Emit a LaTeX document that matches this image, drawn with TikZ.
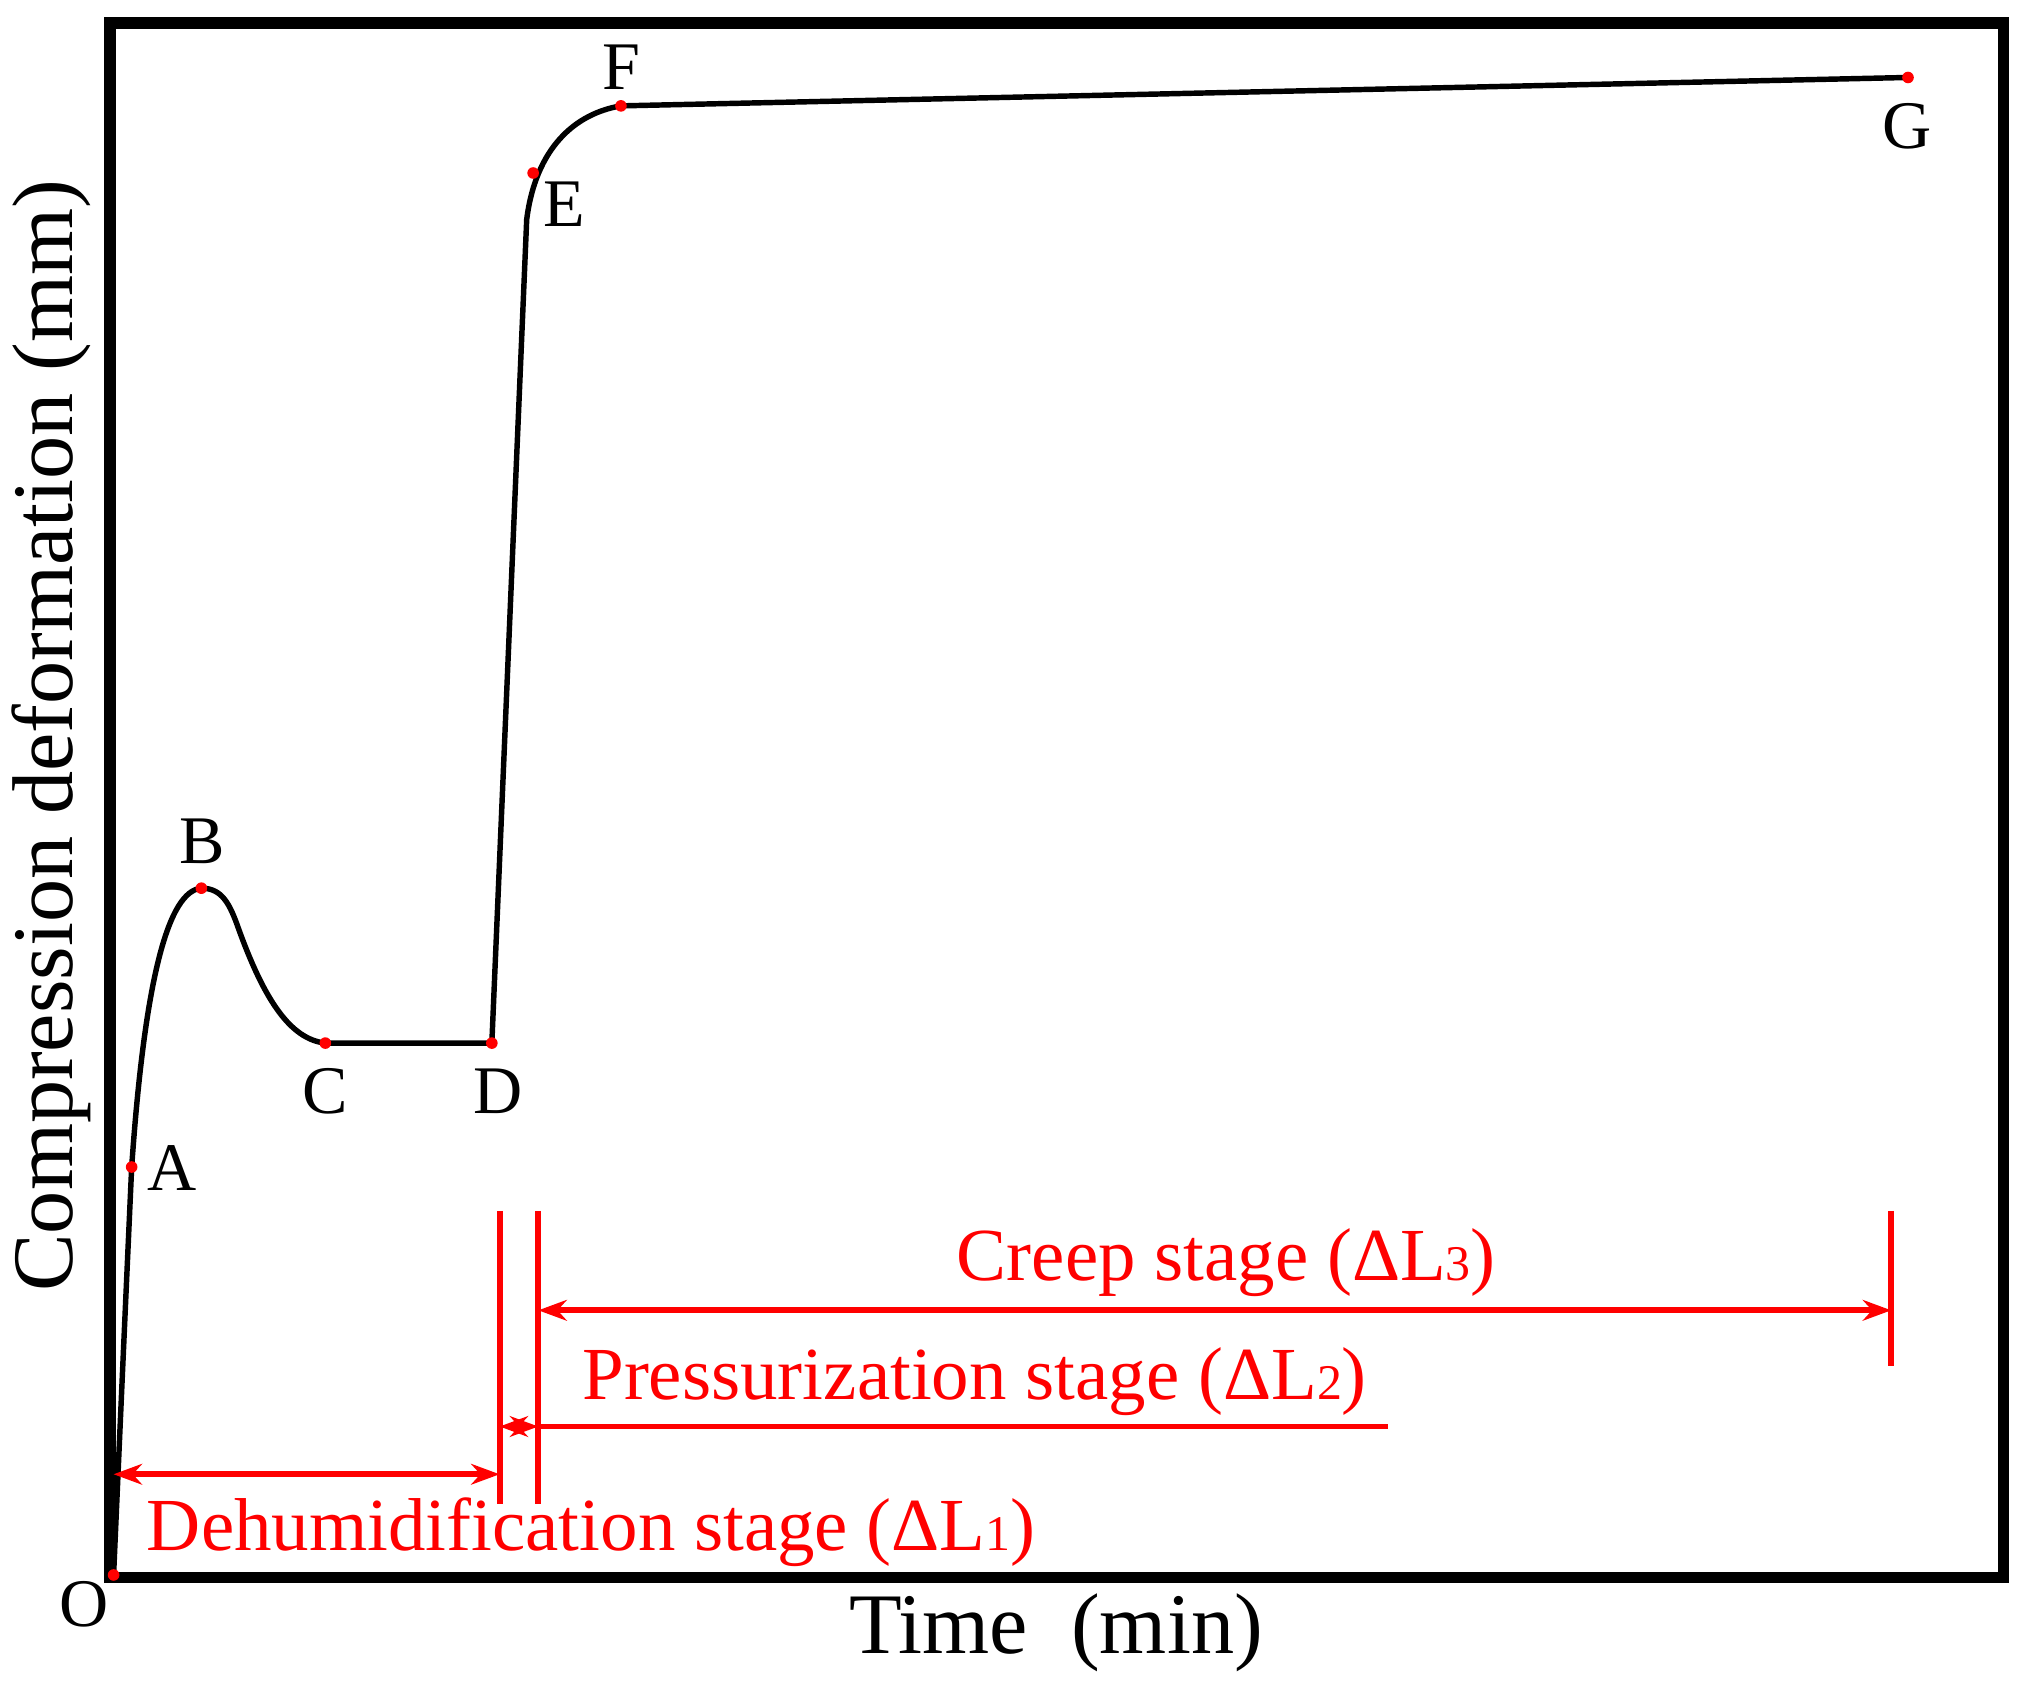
\documentclass[tikz,border=0pt]{standalone}
\usepackage{fontspec}
\setmainfont{Liberation Serif}
\usetikzlibrary{arrows.meta}
\newcommand{\sm}[1]{{\fontsize{11}{11}\selectfont #1}}
\begin{document}
\begin{tikzpicture}[x=0.01cm,y=-0.01cm,
 pt/.style={circle,fill=red,inner sep=0pt,minimum size=0.09cm},
 lab/.style={font=\fontsize{15}{15}\selectfont},
 rl/.style={red,line width=1.3pt},
 ra/.style={red,line width=1.3pt,{Stealth[length=0.22cm,width=0.16cm]}-{Stealth[length=0.22cm,width=0.16cm]}},
 rt/.style={red,font=\fontsize{16.5}{16.5}\selectfont}]
\useasboundingbox (0,0) rectangle (1564,1308);
\draw[line width=2.6pt] (85,18) rectangle (1552,1222);
\coordinate (o) at (88,1220);
\coordinate (a) at (102,904);
\coordinate (b) at (156,688);
\coordinate (c) at (252,808);
\coordinate (d) at (381,808);
\coordinate (e) at (413,134);
\coordinate (f) at (481,82);
\coordinate (g) at (1478,60);
\draw[line width=1.2pt] (o) .. controls (95,1060) .. (a) .. controls (112,760) and (130,690) .. (b)
 .. controls (172,688) and (178,700) .. (185,720) .. controls (205,775) and (225,805) .. (c) -- (d)
 -- (408,170) .. controls (415,115) and (445,88) .. (f) -- (g);
\foreach \p in {o,a,b,c,d,e,f,g} \node[pt] at (\p) {};
\node[lab] (lo) at (65,1243) {O};
\node[lab] (la) at (133,905) {A};
\node[lab] (lb) at (157,652) {B};
\node[lab] (lc) at (252,845) {C};
\node[lab] (ld) at (386,845) {D};
\node[lab] (le) at (437,158) {E};
\node[lab] (lf) at (481,52) {F};
\node[lab] (lg) at (1477,98) {G};
\coordinate (v1t) at (387,938); \coordinate (v1b) at (387,1165);
\coordinate (v2t) at (417,938); \coordinate (v2b) at (417,1165);
\coordinate (v3t) at (1465,938); \coordinate (v3b) at (1465,1058);
\draw[rl] (v1t) -- (v1b); \draw[rl] (v2t) -- (v2b); \draw[rl] (v3t) -- (v3b);
\coordinate (d1) at (88,1142); \coordinate (d2) at (387,1142);
\draw[ra] (d1) -- (d2);
\coordinate (p1) at (387,1105); \coordinate (p2) at (417,1105); \coordinate (p3) at (1075,1105);
\draw[ra] (p1) -- (p2);
\draw[rl] (p2) -- (p3);
\coordinate (c1) at (417,1015); \coordinate (c2) at (1465,1015);
\draw[ra] (c1) -- (c2);
\node[rt] (t1) at (458,1187) {Dehumidification stage (ΔL\sm{1})};
\node[rt] (t2) at (755,1070) {Pressurization stage (ΔL\sm{2})};
\node[rt] (t3) at (950,978) {Creep stage (ΔL\sm{3})};
\node[font=\fontsize{19}{19}\selectfont] (xl) at (818,1265) {Time\ \ (min)};
\node[font=\fontsize{19}{19}\selectfont,rotate=90] (yl) at (40,570) {Compression deformation (mm)};
\end{tikzpicture}
\end{document}
